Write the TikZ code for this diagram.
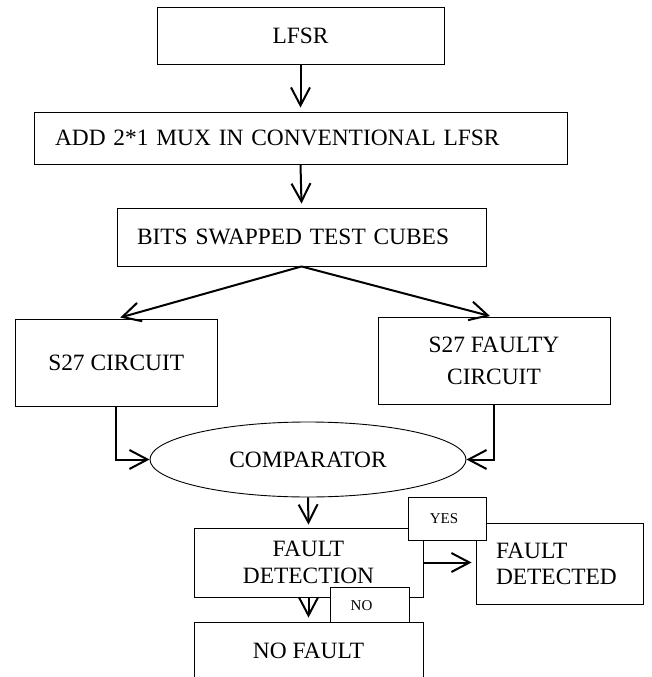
\documentclass[tikz,border=0pt]{standalone}
\usepackage{fontspec}
\setmainfont{Liberation Serif}
\usetikzlibrary{arrows.meta,shapes.geometric}
\begin{document}
\begin{tikzpicture}[x=1pt,y=-1pt,
  box/.style={draw=black,line width=0.9pt,fill=white,inner sep=0pt,font=\fontsize{23.4}{27}\selectfont,align=center},
  tag/.style={draw=black,line width=0.9pt,fill=white,inner sep=0pt},
  tagtext/.style={font=\fontsize{15}{17}\selectfont,inner sep=0pt},
  arr/.style={line width=2pt,-{Straight Barb[length=18pt,width=19pt,line width=2pt]}}]
\clip (0,0) rectangle (651,677);
\fill[white] (0,0) rectangle (651,677);
% boxes
\node[box,minimum width=287pt,minimum height=57pt] (lfsr) at (300.5,35.5) {LFSR};
\node[box,minimum width=533pt,minimum height=52pt,inner xsep=21pt,text width=491pt,align=left] (add) at (300.5,138) {ADD 2*1 MUX IN CONVENTIONAL LFSR};
\node[box,minimum width=369pt,minimum height=58pt,inner xsep=20pt,text width=329pt,align=left] (bits) at (301.5,237) {BITS SWAPPED TEST CUBES};
\node[box,minimum width=201.6pt,minimum height=87pt] (s27) at (116.2,362.5) {S27 CIRCUIT};
\node[box,minimum width=232pt,minimum height=87pt,font=\fontsize{23.4}{32}\selectfont] (faulty) at (494,361) {S27 FAULTY\\CIRCUIT};
\node[box,ellipse,minimum width=316pt,minimum height=75pt] (comp) at (308,459.5) {COMPARATOR};
\node[box,minimum width=229pt,minimum height=69pt,font=\fontsize{23.4}{26.7}\selectfont] (fd) at (308.5,562.5) {FAULT\\DETECTION};
\node[box,minimum width=167pt,minimum height=81pt,inner xsep=20pt,text width=127pt,align=left,font=\fontsize{23.4}{26.7}\selectfont] (fdd) at (559.5,564) {FAULT\\DETECTED};
\node[box,minimum width=229pt,minimum height=58pt] (nf) at (308.5,651) {NO FAULT};
\node[tag,minimum width=78pt,minimum height=43pt] (yes) at (447,518.5) {};
\node[tagtext] at ([xshift=-3pt]yes.center) {YES};
\node[tag,minimum width=79pt,minimum height=35pt] (no) at (369.5,604.5) {};
\node[tagtext] at ([xshift=-8pt,yshift=-1pt]no.center) {NO};
% connectors
\draw[arr] (lfsr.south) -- ([yshift=4pt]add.north);
\draw[arr] (add.south) -- ([yshift=4pt]bits.north);
\draw[arr] (bits.south) -- ([xshift=4pt,yshift=1pt]s27.north);
\draw[arr] (bits.south) -- ([xshift=-4pt,yshift=1pt]faulty.north);
\draw[arr] (s27.south) |- (comp.west);
\draw[arr] (faulty.south) |- (comp.east);
\draw[arr] (comp.south) -- ([yshift=3pt]fd.north);
\draw[arr] (fd.east) -- ([xshift=-4pt]fd.east -| fdd.west);
\draw[arr] (fd.south) -- ([yshift=4pt]nf.north);
\end{tikzpicture}
\end{document}
